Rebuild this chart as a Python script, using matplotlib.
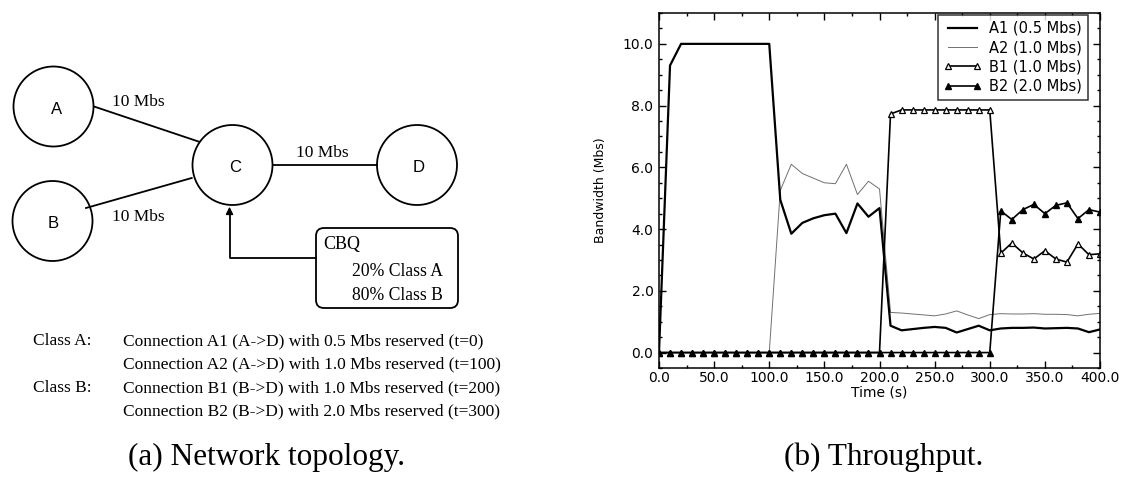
import matplotlib
matplotlib.use("Agg")
import matplotlib.pyplot as plt
from matplotlib.patches import Circle, FancyBboxPatch
from matplotlib.ticker import MultipleLocator, FormatStrFormatter
from matplotlib.lines import Line2D

# ---- throughput data (sampled every 10 s) ----
time_s = list(range(0, 401, 10))

a1_bw = [0.0, 9.3, 10.0, 10.0, 10.0, 10.0, 10.0, 10.0, 10.0, 10.0, 10.0,
         4.95, 3.85, 4.2, 4.35, 4.45, 4.5, 3.87, 4.83, 4.4, 4.68,
         0.87, 0.72, 0.76, 0.8, 0.83, 0.8, 0.65, 0.76, 0.87, 0.72,
         0.78, 0.8, 0.8, 0.81, 0.78, 0.79, 0.8, 0.78, 0.66, 0.75]

a2_bw = [0.0] * 11 + \
        [5.25, 6.1, 5.8, 5.65, 5.5, 5.47, 6.1, 5.12, 5.55, 5.3,
         1.3, 1.28, 1.25, 1.22, 1.19, 1.25, 1.35, 1.22, 1.1, 1.23,
         1.26, 1.25, 1.25, 1.26, 1.24, 1.24, 1.23, 1.19, 1.24, 1.27]

b1_bw = [0.0] * 21 + \
        [7.73, 7.86, 7.86, 7.86, 7.86, 7.86, 7.86, 7.86, 7.86, 7.86,
         3.22, 3.55, 3.23, 3.03, 3.3, 3.03, 2.93, 3.52, 3.17, 3.2]

b2_bw = [0.0] * 31 + \
        [4.59, 4.31, 4.63, 4.8, 4.5, 4.77, 4.85, 4.34, 4.63, 4.55]

series_labels = ["A1 (0.5 Mbs)", "A2 (1.0 Mbs)", "B1 (1.0 Mbs)", "B2 (2.0 Mbs)"]

# ---- topology description ----
link_label = "10 Mbs"
cbq_lines = ["CBQ", "20% Class A", "80% Class B"]
class_rows = [
    ("Class A:", "Connection A1 (A->D) with 0.5 Mbs reserved (t=0)"),
    ("", "Connection A2 (A->D) with 1.0 Mbs reserved (t=100)"),
    ("Class B:", "Connection B1 (B->D) with 1.0 Mbs reserved (t=200)"),
    ("", "Connection B2 (B->D) with 2.0 Mbs reserved (t=300)"),
]
captions = ["(a) Network topology.", "(b) Throughput."]

W, H = 1125, 483
fig = plt.figure(figsize=(W / 100, H / 100), dpi=100)

# Overlay canvas in pixel units for the topology diagram and captions
canvas = fig.add_axes([0, 0, 1, 1])
canvas.set_xlim(0, W)
canvas.set_ylim(H, 0)
canvas.axis("off")

serif = ["Liberation Serif", "DejaVu Serif"]
sans = ["Liberation Sans", "DejaVu Sans"]
chart_font = ["DejaVu Sans"]

nodes = {"A": (53.5, 106.5), "B": (52.5, 221), "C": (232.5, 165), "D": (417, 165)}
label_nudge = {"A": (3, 3), "B": (1, 3), "C": (2.5, 2), "D": (2, 2)}
R = 40
for name, (cx, cy) in nodes.items():
    canvas.add_patch(Circle((cx, cy), R, fill=False, lw=1.3, ec="black"))
    dx, dy = label_nudge[name]
    canvas.text(cx + dx, cy + dy, name, ha="center", va="center",
                family=sans, fontsize=12)

# links
lk = dict(color="black", lw=1.3)
canvas.plot([94, 199], [106.5, 141.7], **lk)
canvas.plot([86, 191.7], [208, 178], **lk)
canvas.plot([272.5, 377], [165, 165], **lk)
canvas.text(138.5, 102, link_label, ha="center", va="center", family=serif, fontsize=12.5)
canvas.text(322.5, 153, link_label, ha="center", va="center", family=serif, fontsize=12.5)
canvas.text(138.5, 217, link_label, ha="center", va="center", family=serif, fontsize=12.5)

# CBQ box with arrow to C
canvas.add_patch(FancyBboxPatch((316, 228), 142, 80,
                                boxstyle="round,pad=0,rounding_size=8",
                                fill=False, lw=1.3, ec="black"))
canvas.plot([316, 229.5, 229.5], [257.5, 257.5, 212], **lk)
canvas.annotate("", xy=(229.5, 204), xytext=(229.5, 216),
                arrowprops=dict(arrowstyle="-|>", color="black", lw=1.0,
                                mutation_scale=11))
canvas.text(323, 245, cbq_lines[0], ha="left", va="center", family=serif, fontsize=13)
canvas.text(352, 272, cbq_lines[1], ha="left", va="center", family=serif, fontsize=12.7)
canvas.text(352, 295, cbq_lines[2], ha="left", va="center", family=serif, fontsize=12.7)

row_y = [341, 364.5, 388, 411]
for (cls, desc), y in zip(class_rows, row_y):
    if cls:
        canvas.text(33, y, cls, ha="left", va="center", family=serif, fontsize=12.5)
    canvas.text(123, y, desc, ha="left", va="center", family=serif, fontsize=12.5)

canvas.text(266, 457, captions[0], ha="center", va="center", family=serif, fontsize=22.5)
canvas.text(884, 457, captions[1], ha="center", va="center", family=serif, fontsize=22.5)

# ---- throughput chart ----
left_px, right_px, top_px, bottom_px = 659, 1100, 13, 368
ax = fig.add_axes([left_px / W, 1 - bottom_px / H,
                   (right_px - left_px) / W, (bottom_px - top_px) / H])
ax.set_facecolor("none")

ax.plot(time_s, a2_bw, color="#707070", lw=0.7, label=series_labels[1])
ax.plot(time_s, a1_bw, color="black", lw=1.6, label=series_labels[0])
ax.plot(time_s, b1_bw, color="black", lw=1.2, marker="^", markersize=4,
        markerfacecolor="white", markeredgewidth=0.9, label=series_labels[2])
ax.plot(time_s, b2_bw, color="black", lw=1.2, marker="^", markersize=4,
        markerfacecolor="black", label=series_labels[3])

ax.set_xlim(0, 400)
ax.set_ylim(-0.5, 11.0)
ax.xaxis.set_major_locator(MultipleLocator(50))
ax.xaxis.set_minor_locator(MultipleLocator(25))
ax.yaxis.set_major_locator(MultipleLocator(2))
ax.yaxis.set_minor_locator(MultipleLocator(0.5))
ax.xaxis.set_major_formatter(FormatStrFormatter("%.1f"))
ax.yaxis.set_major_formatter(FormatStrFormatter("%.1f"))
ax.tick_params(which="both", direction="in", top=True, right=True,
               width=1.0, labelsize=10)
ax.tick_params(which="major", length=5)
ax.tick_params(which="minor", length=2.5)
ax.tick_params(axis="x", which="major", pad=2.5)
ax.tick_params(axis="y", which="major", pad=4)
for lbl in ax.get_xticklabels() + ax.get_yticklabels():
    lbl.set_family(chart_font)
for sp in ax.spines.values():
    sp.set_linewidth(1.1)

ax.set_xlabel("Time (s)", family=chart_font, fontsize=10, labelpad=0)
ax.set_ylabel("Bandwidth (Mbs)", family=chart_font, fontsize=9, labelpad=11)

handles = [
    Line2D([], [], color="black", lw=1.6),
    Line2D([], [], color="#707070", lw=0.7),
    Line2D([], [], color="black", lw=1.2, marker="^", markersize=4,
           markerfacecolor="white", markeredgewidth=0.9),
    Line2D([], [], color="black", lw=1.2, marker="^", markersize=4,
           markerfacecolor="black"),
]
anchor = ((1088 - left_px) / (right_px - left_px),
          1 - (15 - top_px) / (bottom_px - top_px))
leg = ax.legend(handles, series_labels, loc="upper right",
                bbox_to_anchor=anchor, numpoints=2,
                frameon=True, fancybox=False, handlelength=2.6,
                handletextpad=0.55, borderpad=0.4, labelspacing=0.3,
                borderaxespad=0.0, prop={"family": chart_font, "size": 10.5})
leg.get_frame().set_edgecolor("black")
leg.get_frame().set_linewidth(1.1)

fig.savefig("out.png", dpi=100)
